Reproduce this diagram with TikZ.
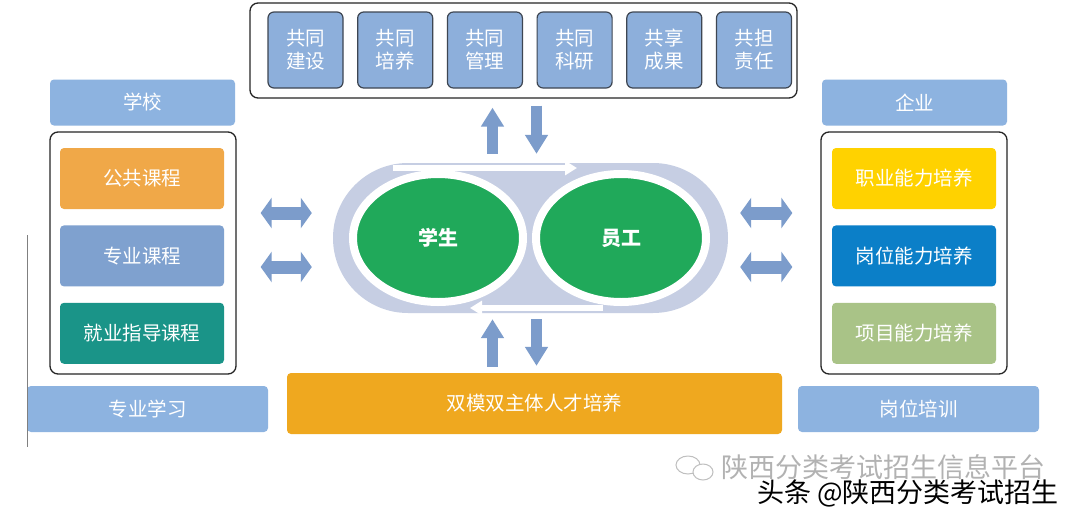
\documentclass[tikz,border=0pt]{standalone}
\usepackage{fontspec}
\setmainfont{Noto Sans CJK SC}
\usetikzlibrary{arrows.meta, positioning, shapes.geometric}
\definecolor{jointblue}{HTML}{8DAFDB}
\definecolor{headblue}{HTML}{8DB3E0}
\definecolor{edgegray}{HTML}{3E4652}
\definecolor{arrowblue}{HTML}{7C9CCB}
\definecolor{pillgray}{HTML}{C6CEE3}
\definecolor{stugreen}{HTML}{20A95A}
\definecolor{bgpublic}{HTML}{F0A848}
\definecolor{bgmajor}{HTML}{7FA1CF}
\definecolor{bgcareer}{HTML}{1A9488}
\definecolor{bgvocat}{HTML}{FFD200}
\definecolor{bgpost}{HTML}{0B7FC8}
\definecolor{bgproject}{HTML}{A9C387}
\definecolor{bgdual}{HTML}{EFA81F}
\newcommand{\boxfont}{\fontsize{19.5pt}{23pt}\selectfont}
\tikzset{
  blkjoint/.style  = {draw=edgegray, line width=1.2pt, fill=jointblue,
                      rounded corners=6pt, minimum width=75pt, minimum height=76pt,
                      font=\boxfont, text=white, align=center, inner sep=0pt},
  blkhead/.style   = {fill=headblue, rounded corners=4pt, minimum height=46pt,
                      font=\boxfont, text=white, inner sep=0pt},
  blkcourse/.style = {rounded corners=4pt, minimum width=164pt, minimum height=61pt,
                      font=\boxfont, text=white, inner sep=0pt},
  frame/.style     = {draw=black!85, line width=1.3pt, rounded corners=8pt, inner sep=0pt},
  core/.style      = {ellipse, draw=white, line width=8pt, fill=stugreen,
                      minimum width=170pt, minimum height=128pt, inner sep=0pt,
                      font=\fontsize{20pt}{22pt}\selectfont\bfseries, text=white},
  vflow/.style     = {-{Triangle[length=19pt, width=22pt]}, line width=11pt, draw=arrowblue},
  hflow/.style     = {{Triangle[length=11pt, width=30pt]}-{Triangle[length=11pt, width=30pt]},
                      line width=13pt, draw=arrowblue},
  loopflow/.style  = {-{Triangle[length=12pt, width=14pt]}, line width=6pt, draw=white},
  mark1/.style     = {font=\fontsize{27pt}{29pt}\selectfont, inner sep=0pt},
}
\begin{document}
\begin{tikzpicture}[x=1pt, y=-1pt]
    \useasboundingbox[fill=white] (0,0) rectangle (1080,520);
    % top row : joint actions
    \node[frame, minimum width=547pt, minimum height=95pt] (topc) at (523.5,50.5) {};
    \node[blkjoint]                      (j1) at (305.5,50) {共同\\建设};
    \node[blkjoint, right=13.5pt of j1]  (j2) {共同\\培养};
    \node[blkjoint, right=13.5pt of j2]  (j3) {共同\\管理};
    \node[blkjoint, right=13.5pt of j3]  (j4) {共同\\科研};
    \node[blkjoint, right=13.5pt of j4]  (j5) {共享\\成果};
    \node[blkjoint, right=13.5pt of j5]  (j6) {共担\\责任};

    % left column : school
    \node[blkhead, minimum width=185pt]  (school) at (142.5,102.5) {学校};
    \node[frame, minimum width=186pt, minimum height=242pt] (lcont) at (143,253) {};
    \node[blkcourse, fill=bgpublic]      (c1) at (142,178.5) {公共课程};
    \node[blkcourse, fill=bgmajor, below=16pt of c1]  (c2) {专业课程};
    \node[blkcourse, fill=bgcareer, below=16pt of c2] (c3) {就业指导课程};
    \node[blkhead, minimum width=241pt]  (study) at (147.5,409) {专业学习};

    % right column : enterprise
    \node[blkhead, minimum width=185pt]  (firm) at (914.5,102.5) {企业};
    \node[frame, minimum width=186pt, minimum height=242pt] (rcont) at (914,253) {};
    \node[blkcourse, fill=bgvocat]       (e1) at (914,178.5) {职业能力培养};
    \node[blkcourse, fill=bgpost, below=16pt of e1]    (e2) {岗位能力培养};
    \node[blkcourse, fill=bgproject, below=16pt of e2] (e3) {项目能力培养};
    \node[blkhead, minimum width=241pt]  (train) at (918.5,409) {岗位培训};

    % bottom bar
    \node[blkcourse, fill=bgdual, minimum width=495pt] (dual) at (534.5,403.5) {双模双主体人才培养};

    % centre : student <-> employee
    \node[fill=pillgray, rounded corners=75pt, minimum width=395pt, minimum height=150pt,
          inner sep=0pt] (pill) at (530.5,238) {};
    \node[core] (stu) at (438,238) {学生};
    \node[core] (emp) at (621,238) {员工};
    \draw[loopflow] ([shift={(-45pt,2pt)}]stu.north) -- ([shift={(-44pt,2pt)}]emp.north);
    \draw[loopflow] ([shift={(-18pt,-2pt)}]emp.south) -- ([shift={(32pt,-2pt)}]stu.south);

    % arrows
    \draw[vflow, shorten <=9pt, shorten >=9pt] ([xshift=-38pt]pill.north) -- ([xshift=-38pt]pill.north |- topc.south);
    \draw[vflow, shorten <=7pt, shorten >=9pt] ([xshift=6pt]pill.north |- topc.south) -- ([xshift=6pt]pill.north);
    \draw[vflow, shorten <=6pt, shorten >=6pt] ([xshift=-38pt]pill.south |- dual.north) -- ([xshift=-38pt]pill.south);
    \draw[vflow, shorten <=6pt, shorten >=7pt] ([xshift=6pt]pill.south) -- ([xshift=6pt]pill.south |- dual.north);
    \draw[hflow, shorten <=24pt, shorten >=21pt] ([yshift=25pt]pill.west -| lcont.east) -- ([yshift=25pt]pill.west);
    \draw[hflow, shorten <=24pt, shorten >=21pt] ([yshift=-29pt]pill.west -| lcont.east) -- ([yshift=-29pt]pill.west);
    \draw[hflow, shorten <=12pt, shorten >=28pt] ([yshift=25pt]pill.east) -- ([yshift=25pt]pill.east -| rcont.west);
    \draw[hflow, shorten <=12pt, shorten >=28pt] ([yshift=-29pt]pill.east) -- ([yshift=-29pt]pill.east -| rcont.west);

    % side rule
    \draw[gray, line width=1pt] (27,235) -- (27,447);

    % watermarks
    \draw[black!25, line width=1pt] (688,465) ellipse (12pt and 9pt);
    \draw[black!25, line width=1pt, fill=white] (703,472) ellipse (10pt and 8pt);
    \node[mark1, text=black!30, anchor=west] (wm1) at (721,467) {陕西分类考试招生信息平台};
    \node[mark1, text=black, anchor=west]    (wm2) at (757,493) {头条 @陕西分类考试招生};
\end{tikzpicture}
\end{document}
